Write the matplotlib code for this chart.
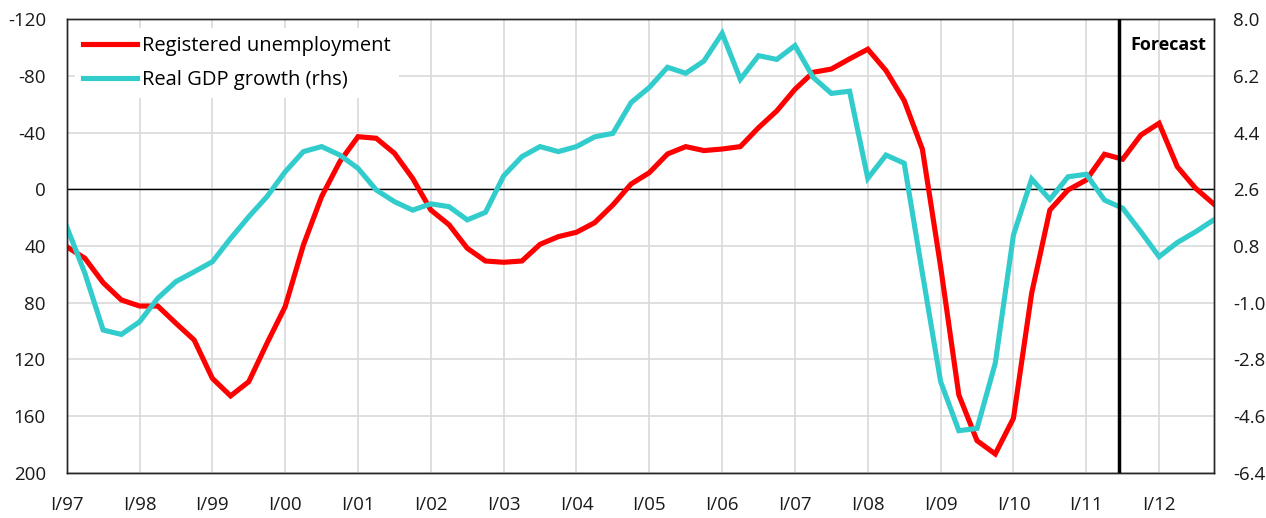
import numpy as np
import matplotlib
matplotlib.use('Agg')
import matplotlib.pyplot as plt

plt.rcParams['font.family'] = ['Open Sans', 'DejaVu Sans']
plt.rcParams['axes.unicode_minus'] = False

# quarterly data, I/97 .. IV/12
unemployment = [40.5, 48.7, 65.9, 78.1, 82.4, 82.4, 94.6, 106.4,
                133.5, 145.9, 135.8, 108.7, 82.8, 39.3, 5.1, -19.6,
                -37.2, -36.1, -25.5, -7.8, 14.6, 25.0, 41.6, 50.6,
                51.5, 50.6, 38.8, 33.4, 30.3, 23.5, 11.0, -3.8,
                -11.8, -25.0, -30.2, -27.4, -28.5, -30.2, -43.6, -55.4,
                -70.7, -82.7, -85.0, -92.2, -99.0, -83.9, -62.7, -28.3,
                54.6, 145.2, 177.5, 186.9, 161.7, 73.4, 14.6, 0.4,
                -6.6, -24.8, -21.3, -38.4, -46.7, -16.0, -0.8, 10.3]
gdp_growth = [1.41, -0.07, -1.87, -2.01, -1.61, -0.86, -0.33, -0.02,
              0.30, 1.04, 1.73, 2.37, 3.16, 3.80, 3.96, 3.69,
              3.27, 2.58, 2.21, 1.94, 2.14, 2.05, 1.63, 1.87,
              3.03, 3.64, 3.96, 3.80, 3.96, 4.27, 4.38, 5.36,
              5.84, 6.48, 6.29, 6.68, 7.56, 6.10, 6.85, 6.73,
              7.17, 6.16, 5.65, 5.72, 2.95, 3.69, 3.43, -0.07,
              -3.51, -5.07, -5.00, -2.93, 1.15, 2.93, 2.28, 3.00,
              3.08, 2.26, 2.00, 1.25, 0.46, 0.91, 1.25, 1.63]
year_labels = ['I/97', 'I/98', 'I/99', 'I/00', 'I/01', 'I/02', 'I/03', 'I/04',
               'I/05', 'I/06', 'I/07', 'I/08', 'I/09', 'I/10', 'I/11', 'I/12']
forecast_start = 57.8

x = np.arange(len(unemployment))

fig = plt.figure(figsize=(12.66, 5.18), dpi=100)
ax = fig.add_axes([0.0527, 0.0878, 0.906, 0.8746])
ax2 = ax.twinx()

# left axis (inverted)
ax.set_ylim(200, -120)
ax.set_yticks(np.arange(-120, 201, 40))
ax.set_xlim(0, len(x) - 1)
ax.set_xticks(np.arange(0, len(x), 4))
ax.set_xticklabels(year_labels)
ax.grid(True, color='#d9d9d9', lw=1.2)
ax.set_axisbelow(True)
ax.axhline(0, color='black', lw=1)
ax.tick_params(length=0, labelsize=13.5, colors='#1a1a1a')
ax.tick_params(axis='x', pad=17)
ax.tick_params(axis='y', pad=15)

# right axis
ax2.set_ylim(-6.4, 8.0)
ax2.set_yticks(np.arange(-6.4, 8.01, 1.8))
ax2.set_yticklabels(['%.1f' % v for v in np.arange(-6.4, 8.01, 1.8)])
ax2.tick_params(length=0, labelsize=13.5, colors='#1a1a1a', pad=14)

for a in (ax, ax2):
    for s in a.spines.values():
        s.set_color('#262626')
        s.set_linewidth(1)

l1, = ax.plot(x, unemployment, color='#ff0000', lw=3.7, label='Registered unemployment',
              solid_joinstyle='miter')
l2, = ax2.plot(x, gdp_growth, color='#33cccc', lw=3.7, label='Real GDP growth (rhs)',
               solid_joinstyle='miter')

ax2.axvline(forecast_start, color='black', lw=2.5, zorder=5)
ax2.text(62.6, 7.2, 'Forecast', ha='right', va='center', fontsize=13,
         fontweight='bold', color='black')

leg = ax2.legend(handles=[l1, l2], loc='upper left', fontsize=14.5, frameon=True,
                 fancybox=False, edgecolor='none', framealpha=1,
                 handlelength=2.7, handletextpad=0.25, borderaxespad=0.4,
                 labelspacing=0.7)
leg.get_frame().set_linewidth(0)

fig.savefig('out.png', dpi=100)
